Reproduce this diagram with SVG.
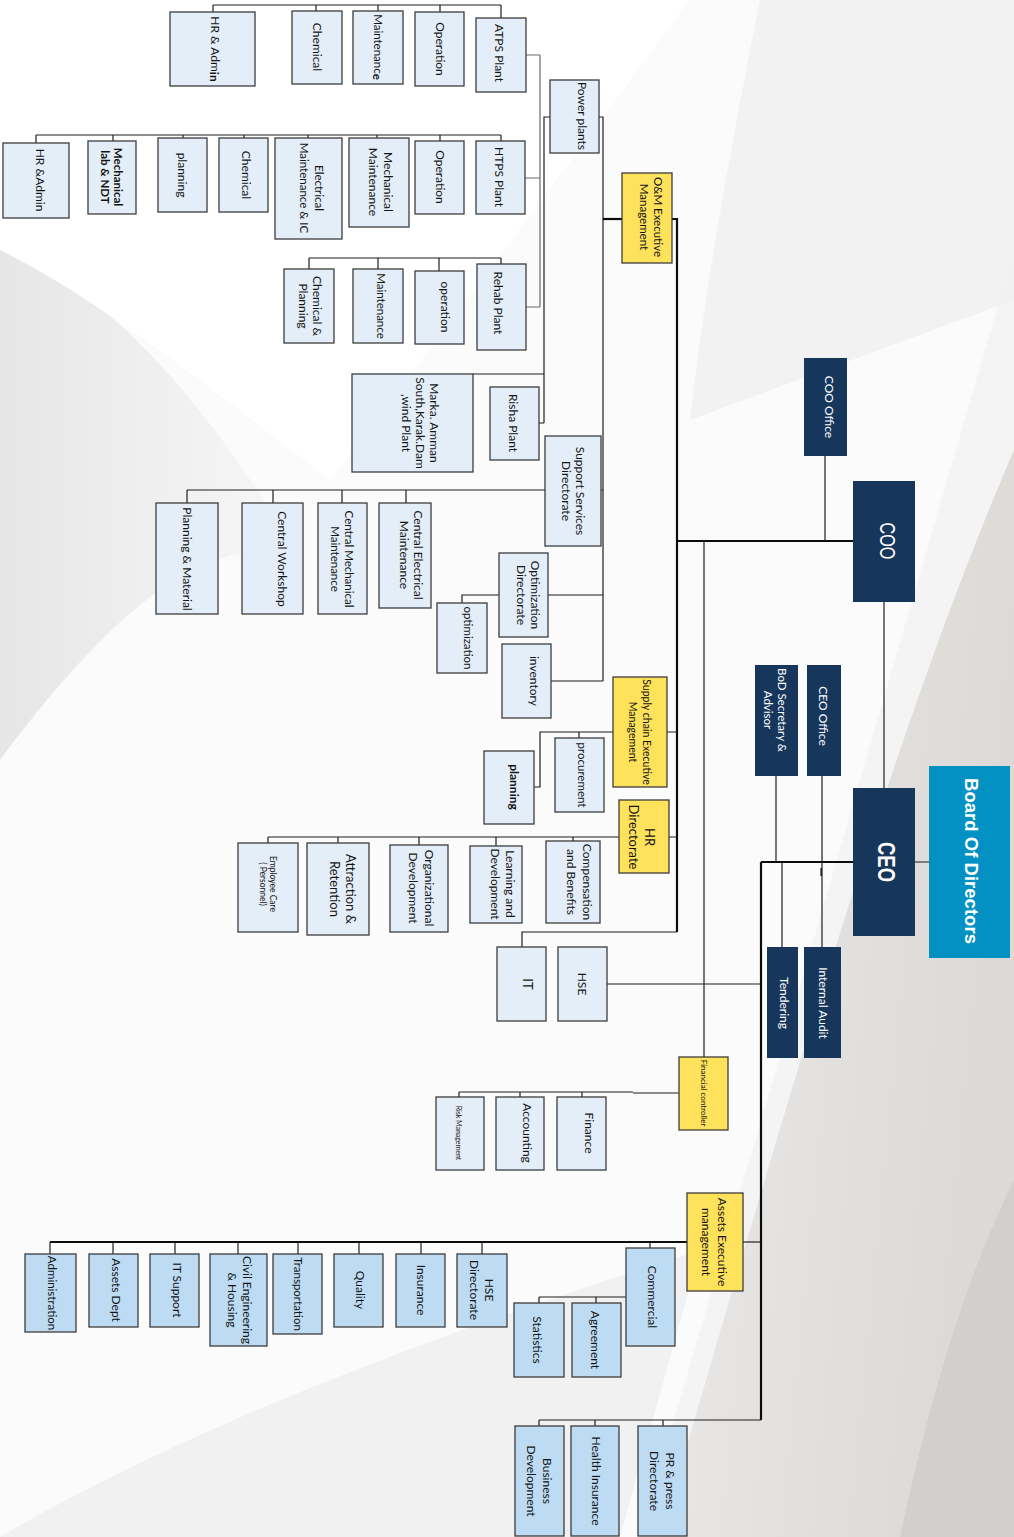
<svg xmlns="http://www.w3.org/2000/svg" width="1014" height="1537" viewBox="0 0 1014 1537">
<defs>
<linearGradient id="bgR" x1="0" y1="0" x2="1" y2="0.3">
<stop offset="0" stop-color="#ececeb"/><stop offset="1" stop-color="#dcd9d6"/>
</linearGradient>
<linearGradient id="bgL" x1="0" y1="0" x2="1" y2="0">
<stop offset="0" stop-color="#e6e6e6"/><stop offset="1" stop-color="#f8f8f8"/>
</linearGradient>
<style>
.b{fill:#e4eef8;stroke:#3c3c3c;stroke-width:1.3}
.a{fill:#bddcf3;stroke:#3c3c3c;stroke-width:1.3}
.y{fill:#fee25b;stroke:#3c3c3c;stroke-width:1.3}
.n{fill:#17365c}
.bd{fill:#0390c3}
text{font-family:Lato,"Liberation Sans",sans-serif;font-size:12px;fill:#141414;text-anchor:middle;dominant-baseline:central}
.w{fill:#ffffff}
.bold{font-weight:bold}
#conn path{fill:none;stroke:#1e1e1e;stroke-width:1.2}
#conn path.k{stroke-width:2.2;stroke:#0c0c0c}
#conn path.g{stroke:#6a6a6a}
</style>
</defs>
<g id="background">
<rect width="1014" height="1537" fill="#f4f4f4"/>
<path d="M0,0 H1014 V250 L640,1537 H0 Z" fill="#fbfbfb"/>
<path d="M0,240 C120,300 220,420 300,560 C200,520 90,640 0,760 Z" fill="url(#bgL)"/>
<path d="M0,0 H690 C600,120 470,300 330,480 C200,380 100,300 0,250 Z" fill="#ffffff"/>
<path d="M660,1537 C760,1200 880,760 1014,450 V1537 Z" fill="url(#bgR)"/>
<path d="M900,1537 C940,1350 980,1250 1014,1180 V1537 Z" fill="#d3cfcc"/>
<path d="M0,1537 C200,1420 450,1330 700,1250 L620,1537 Z" fill="#ececec" opacity="0.7"/>
<path d="M760,0 C720,200 700,330 690,420 L1014,300 V0 Z" fill="#f0f0f0" opacity="0.8"/>
</g>
<g id="conn">
<path d="M213,5 H501 M213,5 V12 M316,5 V11 M378,5 V11 M440,5 V12 M501,5 V18"/>
<path d="M526,55 H540 M525,178 H540 M526,307 H540 M540,55 V307" class="g"/>
<path d="M36,135 H501 M36,135 V143 M113,135 V141 M183,135 V138 M244,135 V138 M308,135 V138 M377,135 V138 M440,135 V141 M501,135 V141"/>
<path d="M309,258 H501 M309,258 V269 M378,258 V269 M439,258 V271 M501,258 V264"/>
<path d="M550,117 H544 V423 M473,374 H544 M539,423 H544"/>
<path d="M599,117 H603 V681 M601,490 H603"/>
<path d="M622,219 H603" class="k"/>
<path d="M672,219 H677 V932" class="k"/>
<path d="M187,490 H545 M187,490 V503 M273,490 V503 M342,490 V503 M406,490 V503"/>
<path d="M548,595 H603 M499,595 H462 V603 M551,681 H603"/>
<path d="M667,732 H677 M613,732 H540 V787 H534 M579,732 V738"/>
<path d="M669,837 H677 M619,837 H268 M268,837 V843 M338,837 V843 M419,837 V845 M496,837 V846 M573,837 V841"/>
<path d="M677,932 H522 V947"/>
<path d="M607,984 H761"/>
<path d="M853,541 H677" class="k"/>
<path d="M825,456 V541 M704,541 V1057 M884,602 V788"/>
<path d="M853,862 H761 M761,862 V1420" class="k"/>
<path d="M915,862 H929 M776,776 V862 M822,776 V947 M782,862 V947 M821,868 V876"/>
<path d="M679,1093 H633 M459,1092 H633 M459,1092 V1097 M520,1092 V1097 M582,1092 V1097"/>
<path d="M743,1242 H761"/>
<path d="M687,1242 H50" class="k"/>
<path d="M50,1242 V1254 M113,1242 V1254 M175,1242 V1254 M238,1242 V1254 M298,1242 V1254 M359,1242 V1254 M421,1242 V1254 M482,1242 V1254 M650,1242 V1248"/>
<path d="M626,1297 H539 M539,1297 V1303 M596,1297 V1303"/>
<path d="M761,1420 H539 M539,1420 V1426 M595,1420 V1426 M663,1420 V1426"/>
</g>

<g id="atps_hr"><rect class="b" x="170" y="12" width="85" height="74"/><text transform="translate(215,49) rotate(90)">HR &amp; Adm<tspan class="bold">in</tspan></text></g>
<g id="atps_chemical"><rect class="b" x="292" y="11" width="50" height="73"/><text transform="translate(317,47) rotate(90)">Chemical</text></g>
<g id="atps_maintenance"><rect class="b" x="353" y="11" width="50" height="73"/><text style="font-size:11.5px" transform="translate(378,47) rotate(90)">Maintenanc<tspan class="bold">e</tspan></text></g>
<g id="atps_operation"><rect class="b" x="415" y="12" width="49" height="74"/><text transform="translate(440,49) rotate(90)">Operation</text></g>
<g id="atps_plant"><rect class="b" x="476" y="18" width="50" height="74"/><text transform="translate(499,53) rotate(90)">ATPS  Plant</text></g>

<g id="htps_hr"><rect class="b" x="3" y="143" width="66" height="75"/><text transform="translate(40,180) rotate(90)">HR &amp;Admin</text></g>
<g id="htps_mechlab"><rect class="b" x="88" y="141" width="48" height="73"/><text class="bold" style="font-size:11.5px" transform="translate(112,177) rotate(90)"><tspan x="0" y="-6.5">Mechanical</tspan><tspan x="0" y="6.5">lab &amp; NDT</tspan></text></g>
<g id="htps_planning"><rect class="b" x="158" y="138" width="49" height="74"/><text transform="translate(182,175) rotate(90)">planning</text></g>
<g id="htps_chemical"><rect class="b" x="219" y="138" width="49" height="74"/><text transform="translate(246,175) rotate(90)">Chemical</text></g>
<g id="htps_electrical"><rect class="b" x="275" y="138" width="67" height="101"/><text style="font-size:11.5px" transform="translate(312,188) rotate(90)"><tspan x="0" y="-7.5">Electrical</tspan><tspan x="0" y="7.5">Maintenance &amp; IC</tspan></text></g>
<g id="htps_mechmaint"><rect class="b" x="349" y="138" width="60" height="89"/><text transform="translate(381,182) rotate(90)"><tspan x="0" y="-7.5">Mechanical</tspan><tspan x="0" y="7.5">Maintenance</tspan></text></g>
<g id="htps_operation"><rect class="b" x="415" y="141" width="49" height="73"/><text transform="translate(440,177) rotate(90)">Operation</text></g>
<g id="htps_plant"><rect class="b" x="476" y="141" width="49" height="73"/><text transform="translate(499,177) rotate(90)">HTPS  Plant</text></g>

<g id="rehab_chemplan"><rect class="b" x="284" y="269" width="50" height="74"/><text transform="translate(311,306) rotate(90)"><tspan x="0" y="-7">Chemical &amp;</tspan><tspan x="0" y="7">Planning</tspan></text></g>
<g id="rehab_maintenance"><rect class="b" x="353" y="269" width="50" height="74"/><text style="font-size:11.5px" transform="translate(381,306) rotate(90)">Maintenance</text></g>
<g id="rehab_operation"><rect class="b" x="415" y="271" width="49" height="73"/><text transform="translate(445,307) rotate(90)">operation</text></g>
<g id="rehab_plant"><rect class="b" x="477" y="264" width="49" height="86"/><text transform="translate(498,303) rotate(90)">Rehab  Plant</text></g>
<g id="marka"><rect class="b" x="352" y="374" width="121" height="98"/><text transform="translate(421,423) rotate(90)"><tspan x="0" y="-14">Marka. Amman</tspan><tspan x="0" y="0">South,Karak.Dam</tspan><tspan x="0" y="14">,wind Plant</tspan></text></g>
<g id="risha"><rect class="b" x="490" y="387" width="49" height="73"/><text transform="translate(513,423) rotate(90)">Risha Plant</text></g>
<g id="power_plants"><rect class="b" x="550" y="80" width="49" height="73"/><text transform="translate(582,116) rotate(90)">Power plants</text></g>
<g id="om_exec"><rect class="y" x="622" y="173" width="50" height="90"/><text style="font-size:11.5px" transform="translate(652,217) rotate(90)"><tspan x="0" y="-7">O&amp;M Executive</tspan><tspan x="0" y="7">Management</tspan></text></g>

<g id="support_services"><rect class="b" x="545" y="436" width="56" height="110"/><text transform="translate(574,491) rotate(90)"><tspan x="0" y="-7">Support Services</tspan><tspan x="0" y="7">Directorate</tspan></text></g>
<g id="planning_material"><rect class="b" x="156" y="503" width="62" height="111"/><text transform="translate(187,559) rotate(90)">Planning &amp; Material</text></g>
<g id="central_workshop"><rect class="b" x="242" y="503" width="61" height="111"/><text transform="translate(282,559) rotate(90)">Central Workshop</text></g>
<g id="central_mech"><rect class="b" x="318" y="503" width="49" height="111"/><text style="font-size:11.5px" transform="translate(343,559) rotate(90)"><tspan x="0" y="-7">Central Mechanical</tspan><tspan x="0" y="7">Maintenance</tspan></text></g>
<g id="central_elec"><rect class="b" x="379" y="503" width="52" height="105"/><text transform="translate(412,555) rotate(90)"><tspan x="0" y="-7">Central Electrical</tspan><tspan x="0" y="7">Maintenance</tspan></text></g>
<g id="optimization_dir"><rect class="b" x="499" y="553" width="49" height="84"/><text transform="translate(529,595) rotate(90)"><tspan x="0" y="-7">Optimization</tspan><tspan x="0" y="7">Directorate</tspan></text></g>
<g id="optimization"><rect class="b" x="437" y="603" width="50" height="70"/><text style="font-size:11.5px" transform="translate(468,638) rotate(90)">optimization</text></g>
<g id="inventory"><rect class="b" x="502" y="644" width="49" height="74"/><text transform="translate(534,681) rotate(90)">inventory</text></g>

<g id="supply_chain"><rect class="y" x="613" y="677" width="54" height="110"/><text style="font-size:10.5px" transform="translate(640,732) rotate(90)"><tspan x="0" y="-7">Supply chain Executive</tspan><tspan x="0" y="7">Management</tspan></text></g>
<g id="procurement"><rect class="b" x="555" y="738" width="49" height="74"/><text style="font-size:11.5px" transform="translate(582,775) rotate(90)">procurement</text></g>
<g id="planning_sc"><rect class="b" x="484" y="751" width="50" height="73"/><text class="bold" transform="translate(514,787) rotate(90)">planning</text></g>

<g id="hr_directorate"><rect class="y" x="619" y="800" width="50" height="73"/><text style="font-size:13px" transform="translate(642,837) rotate(90)"><tspan x="0" y="-8">HR</tspan><tspan x="0" y="8">Directorate</tspan></text></g>
<g id="compensation"><rect class="b" x="546" y="841" width="54" height="82"/><text transform="translate(580,882) rotate(90)"><tspan x="0" y="-8">Compensation</tspan><tspan x="0" y="8">and Benefits</tspan></text></g>
<g id="learning"><rect class="b" x="470" y="846" width="52" height="77"/><text transform="translate(503,884) rotate(90)"><tspan x="0" y="-7.5">Learning and</tspan><tspan x="0" y="7.5">Development</tspan></text></g>
<g id="org_dev"><rect class="b" x="390" y="845" width="58" height="87"/><text transform="translate(422,888) rotate(90)"><tspan x="0" y="-8">Organizational</tspan><tspan x="0" y="8">Development</tspan></text></g>
<g id="attraction"><rect class="b" x="307" y="843" width="62" height="92"/><text style="font-size:13px" transform="translate(343,889) rotate(90)"><tspan x="0" y="-8">Attraction &amp;</tspan><tspan x="0" y="8">Retention</tspan></text></g>
<g id="employee_care"><rect class="b" x="238" y="843" width="60" height="89"/><text style="font-size:8.5px" transform="translate(268,884) rotate(90)"><tspan x="0" y="-5">Employee Care</tspan><tspan x="0" y="5">( Personnel)</tspan></text></g>

<g id="it"><rect class="b" x="497" y="947" width="49" height="74"/><text style="font-size:13px" transform="translate(528,984) rotate(90)">IT</text></g>
<g id="hse"><rect class="b" x="558" y="947" width="49" height="74"/><text transform="translate(582,984) rotate(90)">HSE</text></g>

<g id="financial_controller"><rect class="y" x="679" y="1057" width="49" height="73"/><text style="font-size:8px" transform="translate(704,1093) rotate(90)">Financial controller</text></g>
<g id="finance"><rect class="b" x="557" y="1097" width="49" height="73"/><text transform="translate(589,1133) rotate(90)">Finance</text></g>
<g id="accounting"><rect class="b" x="496" y="1097" width="48" height="73"/><text transform="translate(527,1133) rotate(90)">Accounting</text></g>
<g id="risk"><rect class="b" x="436" y="1097" width="48" height="73"/><text style="font-size:7px" transform="translate(459,1133) rotate(90)">Risk Management</text></g>

<g id="assets_exec"><rect class="y" x="687" y="1193" width="56" height="98"/><text transform="translate(715,1242) rotate(90)"><tspan x="0" y="-8">Assets Executive</tspan><tspan x="0" y="8">management</tspan></text></g>
<g id="commercial"><rect class="a" x="626" y="1248" width="49" height="98"/><text transform="translate(652,1297) rotate(90)">Commercial</text></g>
<g id="agreement"><rect class="a" x="572" y="1303" width="49" height="74"/><text transform="translate(595,1340) rotate(90)">Agreement</text></g>
<g id="statistics"><rect class="a" x="514" y="1303" width="50" height="74"/><text transform="translate(537,1340) rotate(90)">Statistics</text></g>
<g id="hse_directorate"><rect class="a" x="457" y="1254" width="50" height="73"/><text transform="translate(482,1290) rotate(90)"><tspan x="0" y="-7.5">HSE</tspan><tspan x="0" y="7.5">Directorate</tspan></text></g>
<g id="insurance"><rect class="a" x="396" y="1254" width="49" height="73"/><text transform="translate(421,1290) rotate(90)">Insurance</text></g>
<g id="quality"><rect class="a" x="334" y="1254" width="49" height="73"/><text transform="translate(360,1290) rotate(90)">Quality</text></g>
<g id="transportation"><rect class="a" x="273" y="1254" width="49" height="80"/><text style="font-size:11.5px" transform="translate(298,1294) rotate(90)">Transportation</text></g>
<g id="civil"><rect class="a" x="210" y="1254" width="57" height="92"/><text transform="translate(240,1300) rotate(90)"><tspan x="0" y="-7.5">Civil Engineering</tspan><tspan x="0" y="7.5">&amp; Housing</tspan></text></g>
<g id="it_support"><rect class="a" x="150" y="1254" width="49" height="73"/><text transform="translate(177,1290) rotate(90)">IT Support</text></g>
<g id="assets_dept"><rect class="a" x="89" y="1254" width="49" height="73"/><text transform="translate(116,1290) rotate(90)">Assets Dept</text></g>
<g id="administration"><rect class="a" x="25" y="1254" width="51" height="78"/><text style="font-size:11.5px" transform="translate(52,1293) rotate(90)">Administration</text></g>
<g id="pr_press"><rect class="a" x="638" y="1426" width="49" height="110"/><text transform="translate(663,1481) rotate(90)"><tspan x="0" y="-8">PR &amp; press</tspan><tspan x="0" y="8">Directorate</tspan></text></g>
<g id="health_insurance"><rect class="a" x="571" y="1426" width="48" height="110"/><text transform="translate(596,1481) rotate(90)">Health Insurance</text></g>
<g id="business_dev"><rect class="a" x="515" y="1426" width="49" height="110"/><text transform="translate(540,1481) rotate(90)"><tspan x="0" y="-8">Business</tspan><tspan x="0" y="8">Development</tspan></text></g>

<g id="board"><rect class="bd" x="929" y="766" width="81" height="192"/><text class="w bold" style="font-family:'Liberation Sans',Arial,sans-serif;font-size:19px" textLength="166" lengthAdjust="spacingAndGlyphs" transform="translate(971,861) rotate(90)">Board Of Directors</text></g>
<g id="ceo"><rect class="n" x="853" y="788" width="62" height="148"/><text class="w bold" style="font-family:'Liberation Sans',Arial,sans-serif;font-size:23px" textLength="40" lengthAdjust="spacingAndGlyphs" transform="translate(886,862) rotate(90)">CEO</text></g>
<g id="coo"><rect class="n" x="853" y="481" width="62" height="121"/><text class="w" style="font-family:'Liberation Sans',Arial,sans-serif;font-size:22px" textLength="37" lengthAdjust="spacingAndGlyphs" transform="translate(887,541) rotate(90)">COO</text></g>
<g id="coo_office"><rect class="n" x="804" y="358" width="43" height="98"/><text class="w" transform="translate(829,407) rotate(90)">COO Office</text></g>
<g id="ceo_office"><rect class="n" x="807" y="665" width="34" height="111"/><text class="w" transform="translate(823,716) rotate(90)">CEO Office</text></g>
<g id="bod_secretary"><rect class="n" x="755" y="665" width="43" height="111"/><text class="w" style="font-size:11.5px" transform="translate(776,710) rotate(90)"><tspan x="0" y="-7">BoD Secretary &amp;</tspan><tspan x="0" y="7">Advisor</tspan></text></g>
<g id="tendering"><rect class="n" x="767" y="947" width="31" height="111"/><text class="w" transform="translate(784,1003) rotate(90)">Tendering</text></g>
<g id="internal_audit"><rect class="n" x="804" y="947" width="37" height="111"/><text class="w" transform="translate(823,1003) rotate(90)">Internal Audit</text></g>
</svg>
